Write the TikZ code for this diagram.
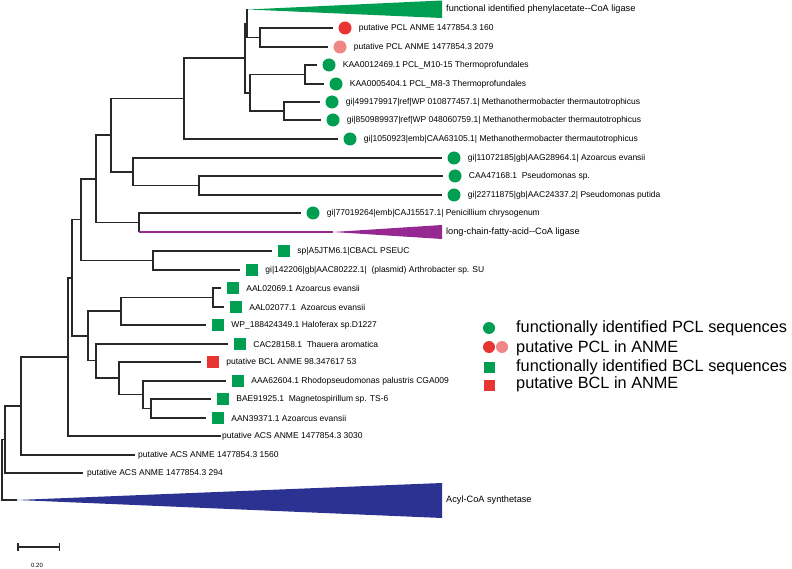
\documentclass[tikz,border=0pt]{standalone}
\usepackage{fontspec}
\setmainfont{Liberation Sans}
\usepackage{tikz}
\usetikzlibrary{positioning,arrows.meta}
\definecolor{pclgreen}{RGB}{0,158,80}
\definecolor{anmered}{RGB}{232,52,50}
\definecolor{anmepink}{RGB}{240,135,135}
\definecolor{lcfpurple}{RGB}{150,40,145}
\definecolor{acsblue}{RGB}{44,50,145}
\definecolor{branch}{RGB}{40,40,40}

\begin{document}
\begin{tikzpicture}[x=1pt, y=-1pt,
  br/.style={draw=branch, line width=1.8pt},
  brthin/.style={draw=branch, line width=1.3pt},
  tomark/.style={br, shorten >=5.5pt},
  pcl/.style={circle, fill=pclgreen, minimum size=13pt, inner sep=0pt},
  bcl/.style={rectangle, fill=pclgreen, minimum size=12pt, inner sep=0pt},
  leaf/.style={font=\fontsize{8.5}{10}\selectfont, inner sep=1pt},
  clade/.style={font=\fontsize{9.2}{11}\selectfont, inner sep=1pt, anchor=west},
  key/.style={font=\fontsize{16.3}{18}\selectfont, inner sep=0pt, anchor=west}
]
  \fill[white] (0,0) rectangle (792,569);
  \useasboundingbox (0,0) rectangle (792,569);

  % internal nodes
  \coordinate (n1) at (260,37.5);
  \coordinate (n2) at (247,23.5);
  \coordinate (n3) at (305,74.5);
  \coordinate (n4) at (284,111);
  \coordinate (n5) at (250,93);
  \coordinate (n6) at (245,58);
  \coordinate (n7) at (184,98.5);
  \coordinate (n8) at (199,185.5);
  \coordinate (n9) at (133,172);
  \coordinate (n10) at (111,135);
  \coordinate (n11) at (139,222.5);
  \coordinate (n12) at (96,179);
  \coordinate (n13) at (153,260.5);
  \coordinate (n14) at (81,219.5);
  \coordinate (n15) at (213,297.5);
  \coordinate (n16) at (121,311);
  \coordinate (n17) at (151,408.5);
  \coordinate (n18) at (143,394.5);
  \coordinate (n19) at (119,378);
  \coordinate (n20) at (96,360.5);
  \coordinate (n21) at (88,336);
  \coordinate (n22) at (72,278);
  \coordinate (n23) at (68,357);
  \coordinate (n24) at (21,406);
  \coordinate (n25) at (5,439.5);
  \coordinate (root) at (2,470);

  % collapsed clades
  \coordinate (pclapex) at (248,9.5);
  \coordinate (lcfapex) at (333,232);
  \coordinate (acsapex) at (17,500);
  \fill[pclgreen] (pclapex) -- (442,0.5) -- (442,18) -- cycle;
  \fill[lcfpurple] (lcfapex) -- (442,225) -- (442,239) -- cycle;
  \fill[acsblue] (acsapex) -- (442,483) -- (442,518) -- cycle;
  \node[clade] (tpcl) at (445,9) {functional identified phenylacetate-\kern0pt-CoA ligase};
  \node[clade] (tlcf) at (445,232) {long-chain-fatty-acid-\kern0pt-CoA ligase};
  \node[clade] (tacs) at (445,500) {Acyl-CoA synthetase};

  % PCL leaves (circles)
  \foreach \i/\x/\y/\col/\txt in {
      1/345/28/anmered/{putative PCL ANME 1477854.3 160},
      2/340/47/anmepink/{putative PCL ANME 1477854.3 2079},
      3/329/65/pclgreen/{KAA0012469.1 PCL\_M10-15 Thermoprofundales},
      4/336/84/pclgreen/{KAA0005404.1 PCL\_M8-3 Thermoprofundales},
      5/332/102/pclgreen/{gi|499179917|ref|WP 010877457.1| Methanothermobacter thermautotrophicus},
      6/333/120/pclgreen/{gi|850989937|ref|WP 048060759.1| Methanothermobacter thermautotrophicus},
      7/350/139/pclgreen/{gi|1050923|emb|CAA63105.1| Methanothermobacter thermautotrophicus},
      8/454/158/pclgreen/{gi|11072185|gb|AAG28964.1| Azoarcus evansii},
      9/455/176/pclgreen/{CAA47168.1\ \ Pseudomonas sp.},
      10/454/195/pclgreen/{gi|22711875|gb|AAC24337.2| Pseudomonas putida},
      11/313/213/pclgreen/{gi|77019264|emb|CAJ15517.1| Penicillium chrysogenum}}
  {
    \node[pcl, fill=\col] (m\i) at (\x,\y) {};
    \node[leaf, right=6pt of m\i] (t\i) {\txt};
  }

  % BCL leaves (squares)
  \foreach \i/\x/\y/\col/\txt in {
      13/284/251/pclgreen/{sp|A5JTM6.1|CBACL PSEUC},
      14/252/270/pclgreen/{gi|142206|gb|AAC80222.1|\ \ (plasmid) Arthrobacter sp. SU},
      15/233/288/pclgreen/{AAL02069.1 Azoarcus evansii},
      16/236/307/pclgreen/{AAL02077.1\ \ Azoarcus evansii},
      17/218/325/pclgreen/{WP\_188424349.1 Haloferax sp.D1227},
      18/240/344/pclgreen/{CAC28158.1\ \ Thauera aromatica},
      19/213/362/anmered/{putative BCL ANME 98.347617 53},
      20/238/381/pclgreen/{AAA62604.1 Rhodopseudomonas palustris CGA009},
      21/223/399/pclgreen/{BAE91925.1\ \ Magnetospirillum sp. TS-6},
      22/218/418/pclgreen/{AAN39371.1 Azoarcus evansii}}
  {
    \node[bcl, fill=\col] (m\i) at (\x,\y) {};
    \node[leaf, right=6pt of m\i] (t\i) {\txt};
  }

  % ACS leaves (no mark)
  \coordinate (e23) at (221,436);
  \coordinate (e24) at (135,455);
  \coordinate (e25) at (83,473);
  \node[leaf, anchor=west] (t23) at (e23) {putative ACS ANME 1477854.3 3030};
  \node[leaf, anchor=west] (t24) at ([xshift=2pt]e24) {putative ACS ANME 1477854.3 1560};
  \node[leaf, anchor=west] (t25) at ([xshift=3pt]e25) {putative ACS ANME 1477854.3 294};

  % branches
  \foreach \p/\c in {n2/pclapex, n2/n1, n5/n3, n5/n4, n6/n2, n6/n5, n7/n6,
      n9/n8, n10/n7, n10/n9, n12/n10, n12/n11, n14/n12, n14/n13, n16/n15,
      n18/n17, n19/n18, n20/n19, n21/n16, n21/n20, n22/n14, n22/n21, n23/n22}
    \draw[br] (\p) |- (\c);
  \foreach \p/\c in {n1/m1, n1/m2, n3/m3, n3/m4, n4/m5, n4/m6, n7/m7, n9/m8,
      n8/m9, n8/m10, n11/m11, n13/m13, n13/m14, n15/m15, n15/m16, n16/m17,
      n20/m18, n19/m19, n18/m20, n17/m21, n17/m22}
    \draw[tomark] (\p) |- (\c);
  \foreach \p/\c in {n23/e23, n24/n23, n24/e24, n25/n24, n25/e25, root/n25, root/acsapex}
    \draw[brthin] (\p) |- (\c);
  \draw[br] (n11) -- (n11 |- lcfapex);
  \draw[lcfpurple, line width=1.4pt] (n11 |- lcfapex) -- (lcfapex);

  % scale bar
  \coordinate (sb0) at (17,547);
  \coordinate (sb1) at (60,547);
  \draw[br, line width=1.5pt, {Bar[width=8pt]}-{Bar[width=8pt]}] (sb0) -- (sb1);
  \node[font=\fontsize{6}{7}\selectfont, inner sep=0pt] (sbl) at (37,565) {0.20};

  % legend
  \node[pcl, minimum size=12pt] (kpcl) at (489,328) {};
  \node[key] (kpcltxt) at (516,328.5) {functionally identified PCL sequences};
  \node[pcl, fill=anmered, minimum size=12pt] (kanme) at (489,347) {};
  \node[pcl, fill=anmepink, minimum size=12pt] (kanmeb) at (502,347) {};
  \node[key] (kanmetxt) at (516,348) {putative PCL in ANME};
  \node[bcl, minimum size=11pt] (kbcl) at (489,367) {};
  \node[key] (kbcltxt) at (516,367) {functionally identified BCL sequences};
  \node[bcl, fill=anmered, minimum size=11pt] (kbanme) at (489,385) {};
  \node[key] (kbanmetxt) at (516,384.5) {putative BCL in ANME};
\end{tikzpicture}
\end{document}
